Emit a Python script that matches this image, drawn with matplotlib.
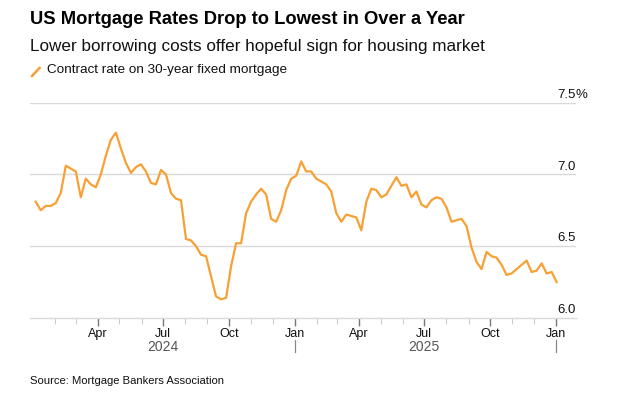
import pandas as pd
import matplotlib.pyplot as plt
import matplotlib.dates as mdates
from matplotlib.ticker import FixedLocator

plt.rcParams['font.family'] = ['Liberation Sans', 'DejaVu Sans']

# Weekly MBA contract rate, 30-year fixed (weeks ending Fridays)
dates = pd.date_range("2024-01-05", periods=105, freq="W-FRI")
rates_2024 = [
    6.81, 6.75, 6.78, 6.78, 6.80, 6.87, 7.06, 7.04, 7.02, 6.84, 6.97, 6.93, 6.91,
    7.00, 7.13, 7.24, 7.29, 7.18, 7.08, 7.01, 7.05, 7.07, 7.02, 6.94, 6.93, 7.03,
    7.00, 6.87, 6.83, 6.82, 6.55, 6.54, 6.50, 6.44, 6.43, 6.29, 6.15, 6.13, 6.14,
    6.36, 6.52, 6.52, 6.73, 6.81, 6.86, 6.90, 6.86, 6.69, 6.67, 6.75, 6.89, 6.97,
]
rates_2025 = [
    6.99, 7.09, 7.02, 7.02, 6.97, 6.95, 6.93, 6.88, 6.73, 6.67, 6.72, 6.71, 6.70,
    6.61, 6.81, 6.90, 6.89, 6.84, 6.86, 6.92, 6.98, 6.92, 6.93, 6.84, 6.88, 6.79,
    6.77, 6.82, 6.84, 6.83, 6.77, 6.67, 6.68, 6.69, 6.64, 6.49, 6.39, 6.34, 6.46,
    6.43, 6.42, 6.37, 6.30, 6.31, 6.34, 6.37, 6.40, 6.32, 6.33, 6.38, 6.31, 6.32,
]
rates_2026 = [6.25]
rates = rates_2024 + rates_2025 + rates_2026

y_ticks = [6.0, 6.5, 7.0, 7.5]
y_labels = ["6.0", "6.5", "7.0", "7.5"]
quarter_ticks = pd.to_datetime(["2024-04-01", "2024-07-01", "2024-10-01", "2025-01-01",
                                "2025-04-01", "2025-07-01", "2025-10-01", "2026-01-01"])
quarter_labels = ["Apr", "Jul", "Oct", "Jan", "Apr", "Jul", "Oct", "Jan"]
month_ticks = pd.date_range("2024-02-01", "2026-01-01", freq="MS")
years = ["2024", "2025"]
year_breaks = pd.to_datetime(["2025-01-01", "2026-01-01"])

LINE_COLOR = "#f7a034"
GRID_COLOR = "#d9d9d9"

W, H = 620, 399
fig = plt.figure(figsize=(6.2, 3.99), dpi=100)
ax = fig.add_axes([30 / W, 1 - 318 / H, 546 / W, (318 - 102.5) / H])

ax.plot(dates, rates, color=LINE_COLOR, linewidth=1.6, solid_joinstyle="round",
        zorder=3)

ax.set_ylim(6.0, 7.5)
ax.set_xlim(pd.Timestamp("2023-12-28"), pd.Timestamp("2026-01-29"))

for s in ["top", "right", "left"]:
    ax.spines[s].set_visible(False)
ax.spines["bottom"].set_color(GRID_COLOR)
ax.spines["bottom"].set_linewidth(1.0)

# horizontal gridlines + right-side labels
for v, lab in zip(y_ticks, y_labels):
    if v > 6.0:
        ax.axhline(v, color=GRID_COLOR, linewidth=1.0, zorder=1)
    ax.text(1.0, v + 0.012, lab, transform=ax.get_yaxis_transform(), ha="right",
            va="bottom", fontsize=9.5, color="#111111")
    if v == 7.5:
        ax.text(1.0, v + 0.012, "%", transform=ax.get_yaxis_transform(), ha="left",
                va="bottom", fontsize=9.5, color="#111111")
ax.set_yticks([])

# x ticks: monthly minor, quarterly major
ax.xaxis.set_major_locator(FixedLocator(mdates.date2num(quarter_ticks)))
ax.xaxis.set_minor_locator(FixedLocator(mdates.date2num(month_ticks)))
ax.set_xticklabels(quarter_labels)
ax.tick_params(axis="x", which="major", length=6, width=1, color="#777777",
               labelsize=9, pad=1, labelcolor="#111111")
ax.tick_params(axis="x", which="minor", length=4, width=0.8, color="#cccccc")

# year labels and separators
trans = ax.get_xaxis_transform()
for yr in years:
    mid = pd.Timestamp(f"{yr}-07-01")
    ax.text(mid, -0.136, yr, transform=trans, ha="center", va="center",
            fontsize=10, color="#555555")
for d in year_breaks:
    ax.plot([d, d], [-0.10, -0.16], transform=trans,
            color="#888888", linewidth=0.9, clip_on=False)

# header text
fig.text(30 / W, 1 - 20 / H, "US Mortgage Rates Drop to Lowest in Over a Year",
         fontsize=13.2, fontweight="bold", ha="left", va="center", color="#000000")
fig.text(30 / W, 1 - 46 / H,
         "Lower borrowing costs offer hopeful sign for housing market",
         fontsize=12.3, ha="left", va="center", color="#111111")
fig.lines.append(plt.Line2D([32 / W, 39.5 / W], [1 - 76 / H, 1 - 68 / H],
                            transform=fig.transFigure, color=LINE_COLOR,
                            linewidth=1.8))
fig.text(47 / W, 1 - 70.5 / H, "Contract rate on 30-year fixed mortgage",
         fontsize=9.7, ha="left", va="center", color="#111111")
fig.text(30 / W, 1 - 380.5 / H, "Source: Mortgage Bankers Association",
         fontsize=8.1, ha="left", va="center", color="#111111")

fig.savefig("out.png", dpi=100)
